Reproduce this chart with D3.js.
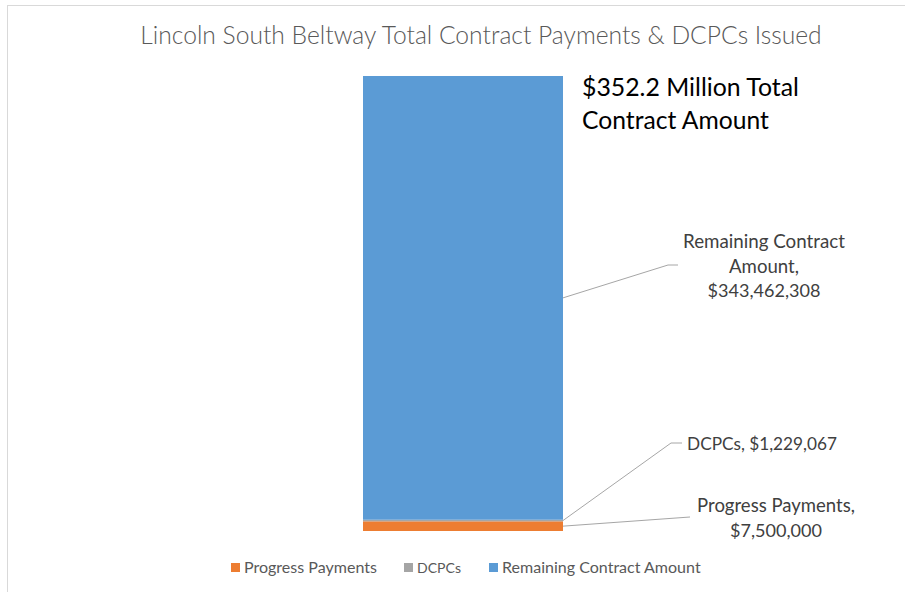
<!DOCTYPE html>
<html><head><meta charset="utf-8">
<script src="https://cdn.jsdelivr.net/npm/d3@7"></script>
<style>body{margin:0;background:#fff}svg{display:block;font-family:Lato,"Open Sans",sans-serif}</style>
</head><body>
<svg id="c" width="905" height="592"></svg>
<script>
const title = "Lincoln South Beltway Total Contract Payments & DCPCs Issued";
const series = ["Progress Payments", "DCPCs", "Remaining Contract Amount"];
const values = [7500000, 1229067, 343462308];
const colors = ["#ED7D31", "#A5A5A5", "#5B9BD5"];
const labelLines = [["Progress Payments,", "$7,500,000"], ["DCPCs, $1,229,067"], ["Remaining Contract", "Amount,", "$343,462,308"]];
const totalNote = ["$352.2 Million Total", "Contract Amount"];

const svg = d3.select("#c");
// chart area border
svg.append("rect").attr("x", 7.5).attr("y", 5.5).attr("width", 920).attr("height", 620)
  .attr("fill", "#fff").attr("stroke", "#d9d9d9").attr("stroke-width", 1);

const total = d3.sum(values);
const y = d3.scaleLinear().domain([0, total]).range([531, 76]);
const x = d3.scaleBand().domain(["Total"]).range([363, 563]).padding(0);

function fit(sel, w) {
  const n = sel.node(); const cur = n.getComputedTextLength();
  const fs = parseFloat(sel.attr("font-size"));
  sel.attr("font-size", fs * w / cur);
}

const t = svg.append("text").attr("x", 481).attr("y", 44).attr("text-anchor", "middle")
  .attr("font-size", 22).attr("fill", "#595959").attr("font-weight", 300).text(title);
fit(t, 682);

let cum = 0;
const stacks = values.map((v, i) => { const s = {i, y0: cum, y1: cum + v}; cum += v; return s; });
svg.selectAll("rect.bar").data(stacks).join("rect").attr("class", "bar")
  .attr("x", x("Total")).attr("width", x.bandwidth())
  .attr("y", d => y(d.y1)).attr("height", d => y(d.y0) - y(d.y1))
  .attr("fill", d => colors[d.i]);

// leader lines and labels
const leaders = [
  {from: [x("Total") + x.bandwidth(), y(values[0] / 2)], mid: [690, 517], end: [690, 517], lx: 776, ly: 512},
  {from: [x("Total") + x.bandwidth(), y(values[0] + values[1] / 2)], mid: [671, 443], end: [682, 443], lx: 762, ly: 450},
  {from: [x("Total") + x.bandwidth(), y(values[0] + values[1] + values[2] / 2)], mid: [668, 265], end: [678, 265], lx: 764, ly: 248}
];
const labelWidths = [[158, 92], [150], [162, 70, 113]];
leaders.forEach((l, i) => {
  svg.append("polyline").attr("points", [l.from, l.mid, l.end].map(p => p.join(",")).join(" "))
    .attr("fill", "none").attr("stroke", "#A6A6A6").attr("stroke-width", 1);
  labelLines[i].forEach((s, j) => {
    const tt = svg.append("text").attr("x", l.lx).attr("y", l.ly + j * 24.5).attr("text-anchor", "middle")
      .attr("font-size", 16).attr("fill", "#404040").text(s);
    fit(tt, labelWidths[i][j]);
  });
});

const nw = [217, 187];
totalNote.forEach((s, j) => {
  const tt = svg.append("text").attr("x", 582).attr("y", 96 + j * 33).attr("font-size", 24)
    .attr("fill", "#000").text(s);
  fit(tt, nw[j]);
});

// legend
const legX = [231, 404, 489];
const legW = [133, 44, 199];
series.forEach((s, i) => {
  svg.append("rect").attr("x", legX[i]).attr("y", 563).attr("width", 9).attr("height", 9).attr("fill", colors[i]);
  const tt = svg.append("text").attr("x", legX[i] + 13).attr("y", 573).attr("font-size", 15)
    .attr("fill", "#595959").text(s);
  fit(tt, legW[i]);
});
</script>
</body></html>
